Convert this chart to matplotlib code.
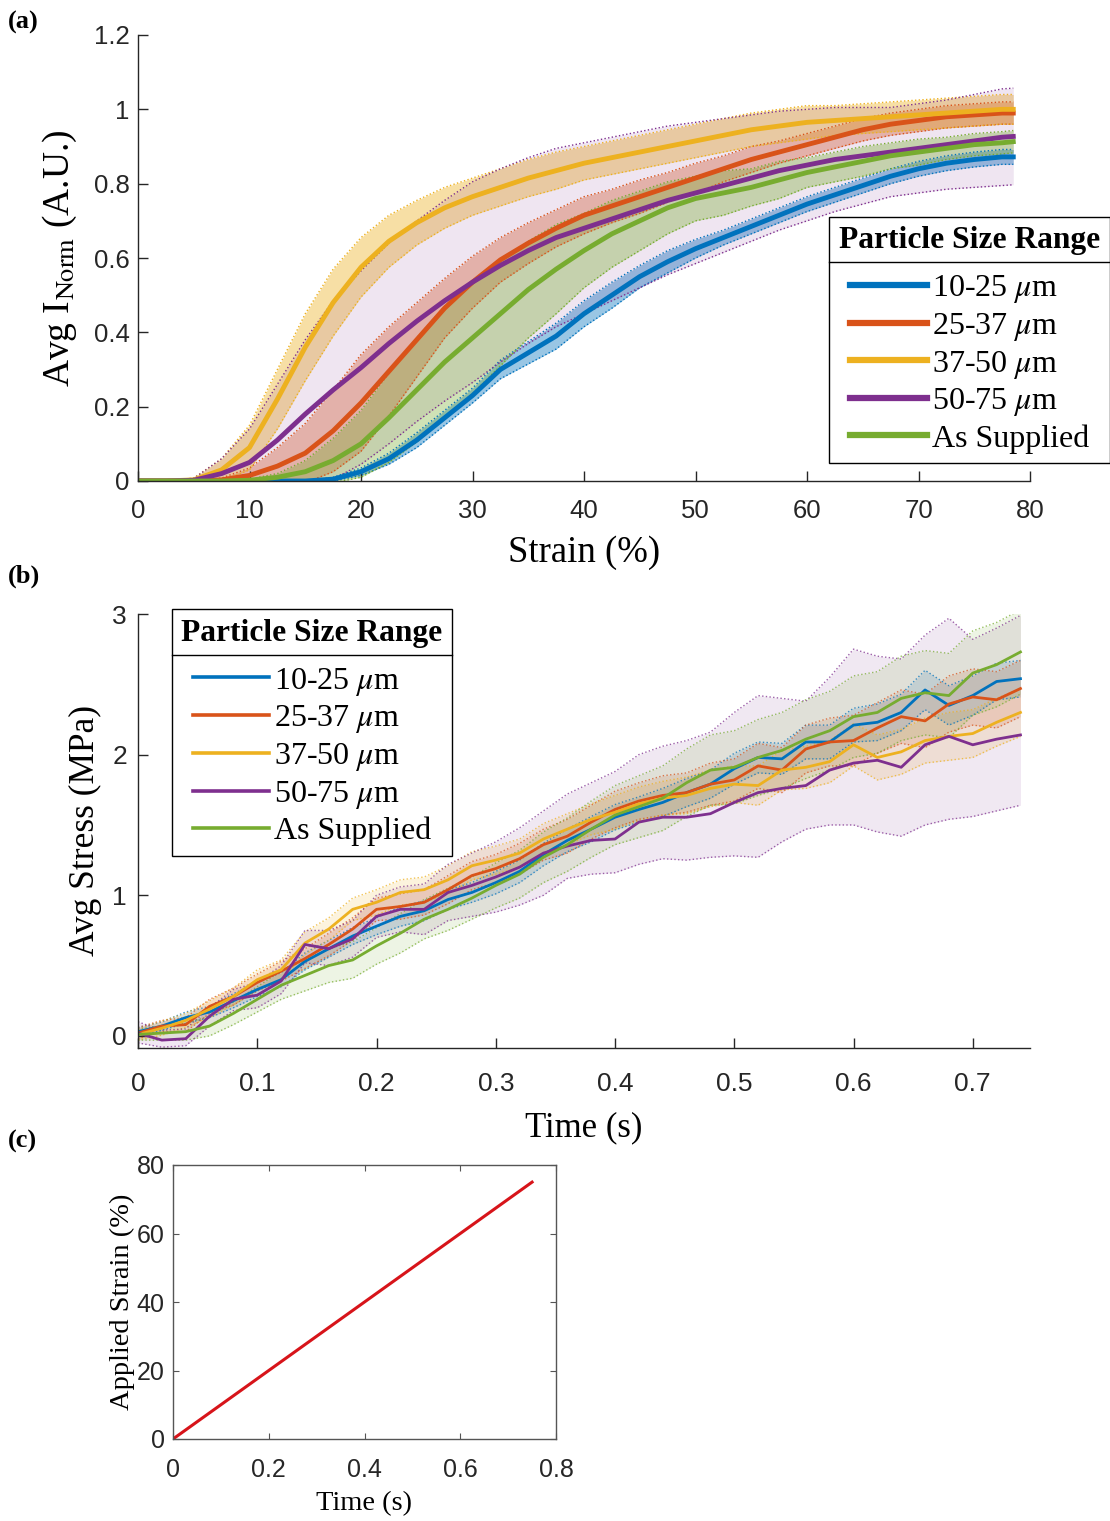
import matplotlib
matplotlib.use('Agg')
import matplotlib.pyplot as plt
from matplotlib.lines import Line2D
import numpy as np

plt.rcParams['mathtext.fontset'] = 'stix'
plt.rcParams['axes.linewidth'] = 1.0

SANS = 'Liberation Sans'
SERIF = 'Liberation Serif'
INK = '#262626'

# series names / colours (MATLAB default order)
names = ['10-25 $\\mu$m', '25-37 $\\mu$m', '37-50 $\\mu$m', '50-75 $\\mu$m', 'As Supplied']
colors = ['#0072BD', '#D95319', '#EDB120', '#7E2F8E', '#77AC30']

# ---- (a) average normalised intensity vs strain ----
strain_a = [0, 2.5, 5, 7.5, 10, 12.5, 15, 17.5, 20, 22.5, 25, 27.5, 30, 32.5, 35, 37.5, 40,
            42.5, 45, 47.5, 50, 52.5, 55, 57.5, 60, 62.5, 65, 67.5, 70, 72.5, 75, 77.5, 78.5]
int_1025 = [0, 0, 0, 0, 0, 0, 0, 0.005, 0.025, 0.06, 0.11, 0.17, 0.23, 0.30, 0.345, 0.39, 0.45,
            0.50, 0.55, 0.59, 0.625, 0.655, 0.685, 0.715, 0.745, 0.77, 0.795, 0.82, 0.84, 0.855,
            0.865, 0.872, 0.872]
int_2537 = [0, 0, 0, 0.003, 0.015, 0.04, 0.075, 0.135, 0.21, 0.295, 0.38, 0.465, 0.535, 0.595,
            0.64, 0.68, 0.715, 0.74, 0.765, 0.79, 0.815, 0.84, 0.865, 0.885, 0.905, 0.925, 0.945,
            0.96, 0.97, 0.98, 0.985, 0.99, 0.99]
int_3750 = [0, 0, 0.003, 0.03, 0.09, 0.22, 0.36, 0.48, 0.575, 0.645, 0.695, 0.735, 0.765, 0.79,
            0.815, 0.835, 0.855, 0.87, 0.885, 0.90, 0.915, 0.93, 0.945, 0.955, 0.965, 0.97, 0.975,
            0.98, 0.985, 0.99, 0.995, 1.0, 1.0]
int_5075 = [0, 0, 0.002, 0.02, 0.05, 0.11, 0.18, 0.245, 0.305, 0.37, 0.43, 0.485, 0.535, 0.58,
            0.62, 0.655, 0.68, 0.705, 0.73, 0.755, 0.775, 0.795, 0.815, 0.835, 0.85, 0.865, 0.875,
            0.885, 0.895, 0.905, 0.915, 0.925, 0.927]
int_supp = [0, 0, 0, 0, 0.002, 0.01, 0.025, 0.055, 0.10, 0.17, 0.245, 0.32, 0.385, 0.45, 0.515,
            0.57, 0.62, 0.665, 0.70, 0.735, 0.76, 0.775, 0.79, 0.81, 0.83, 0.845, 0.86, 0.875,
            0.885, 0.895, 0.905, 0.91, 0.913]
# standard deviation bands
sd_1025 = [0, 0, 0, 0, 0, 0, 0, 0.005, 0.01, 0.015, 0.02, 0.02, 0.02, 0.025, 0.03, 0.035, 0.035,
           0.035, 0.03, 0.03, 0.025, 0.02, 0.02, 0.02, 0.02, 0.02, 0.02, 0.02, 0.02, 0.02, 0.02,
           0.02, 0.02]
sd_2537 = [0, 0, 0, 0.005, 0.02, 0.05, 0.08, 0.11, 0.13, 0.12, 0.10, 0.08, 0.07, 0.06, 0.055,
           0.05, 0.05, 0.045, 0.045, 0.04, 0.04, 0.035, 0.035, 0.03, 0.03, 0.03, 0.03, 0.03, 0.03,
           0.03, 0.03, 0.03, 0.03]
sd_3750 = [0, 0, 0.005, 0.03, 0.06, 0.08, 0.09, 0.09, 0.08, 0.07, 0.06, 0.055, 0.05, 0.05, 0.05,
           0.05, 0.045, 0.045, 0.045, 0.045, 0.045, 0.045, 0.045, 0.045, 0.045, 0.04, 0.04, 0.04,
           0.04, 0.04, 0.04, 0.04, 0.04]
sd_5075 = [0, 0, 0.005, 0.04, 0.09, 0.15, 0.20, 0.24, 0.26, 0.27, 0.27, 0.27, 0.27, 0.26, 0.25,
           0.24, 0.23, 0.22, 0.21, 0.20, 0.19, 0.18, 0.17, 0.16, 0.15, 0.14, 0.13, 0.12, 0.12,
           0.12, 0.125, 0.13, 0.13]
sd_supp = [0, 0, 0, 0, 0.003, 0.01, 0.03, 0.06, 0.09, 0.12, 0.14, 0.15, 0.15, 0.14, 0.13, 0.12,
           0.10, 0.09, 0.08, 0.07, 0.06, 0.06, 0.05, 0.05, 0.04, 0.04, 0.04, 0.035, 0.035, 0.03,
           0.03, 0.03, 0.03]

# ---- (b) average stress vs time ----
time_b = [0, 0.02, 0.04, 0.06, 0.08, 0.10, 0.12, 0.14, 0.16, 0.18, 0.20, 0.22, 0.24, 0.26, 0.28,
          0.30, 0.32, 0.34, 0.36, 0.38, 0.40, 0.42, 0.44, 0.46, 0.48, 0.50, 0.52, 0.54, 0.56,
          0.58, 0.60, 0.62, 0.64, 0.66, 0.68, 0.70, 0.72, 0.74]
stress_1025 = [0.03, 0.07, 0.13, 0.17, 0.25, 0.33, 0.40, 0.53, 0.62, 0.71, 0.78, 0.85, 0.89, 0.97,
               1.02, 1.09, 1.17, 1.29, 1.39, 1.47, 1.555, 1.61, 1.66, 1.73, 1.79, 1.90, 1.98,
               1.97, 2.09, 2.09, 2.21, 2.23, 2.30, 2.46, 2.35, 2.42, 2.52, 2.54]
stress_2537 = [0.02, 0.07, 0.08, 0.21, 0.28, 0.38, 0.46, 0.55, 0.65, 0.76, 0.90, 0.92, 0.95, 1.04,
               1.14, 1.19, 1.26, 1.36, 1.42, 1.52, 1.61, 1.67, 1.71, 1.73, 1.79, 1.82, 1.92,
               1.89, 2.04, 2.09, 2.10, 2.19, 2.27, 2.24, 2.36, 2.41, 2.39, 2.47]
stress_3750 = [0.01, 0.055, 0.11, 0.19, 0.28, 0.40, 0.47, 0.66, 0.76, 0.90, 0.95, 1.02, 1.04,
               1.11, 1.21, 1.25, 1.30, 1.40, 1.47, 1.54, 1.59, 1.65, 1.69, 1.71, 1.76, 1.79,
               1.78, 1.89, 1.91, 1.95, 2.07, 1.98, 2.02, 2.10, 2.13, 2.15, 2.23, 2.30]
stress_5075 = [0.02, -0.03, -0.02, 0.14, 0.26, 0.29, 0.39, 0.65, 0.62, 0.69, 0.85, 0.90, 0.90,
               1.02, 1.07, 1.13, 1.20, 1.30, 1.35, 1.39, 1.40, 1.52, 1.555, 1.555, 1.58, 1.66,
               1.73, 1.76, 1.78, 1.89, 1.94, 1.96, 1.91, 2.07, 2.13, 2.07, 2.11, 2.14]
stress_supp = [0.01, 0.02, 0.03, 0.07, 0.16, 0.26, 0.36, 0.43, 0.50, 0.54, 0.64, 0.73, 0.83, 0.90,
               0.98, 1.07, 1.15, 1.27, 1.36, 1.47, 1.57, 1.63, 1.69, 1.80, 1.89, 1.91, 1.98,
               2.03, 2.11, 2.17, 2.27, 2.30, 2.40, 2.44, 2.42, 2.58, 2.64, 2.73]
sdb_1025 = [0.03, 0.03, 0.04, 0.04, 0.05, 0.05, 0.05, 0.06, 0.06, 0.06, 0.06, 0.07, 0.07, 0.07,
            0.07, 0.08, 0.08, 0.08, 0.08, 0.09, 0.09, 0.09, 0.10, 0.10, 0.10, 0.11, 0.11, 0.11,
            0.12, 0.12, 0.12, 0.13, 0.13, 0.14, 0.14, 0.14, 0.13, 0.13]
sdb_2537 = [0.04, 0.04, 0.05, 0.05, 0.06, 0.06, 0.07, 0.07, 0.08, 0.08, 0.08, 0.09, 0.09, 0.10,
            0.10, 0.10, 0.11, 0.11, 0.12, 0.12, 0.13, 0.13, 0.14, 0.14, 0.15, 0.15, 0.16, 0.16,
            0.17, 0.17, 0.18, 0.18, 0.19, 0.19, 0.20, 0.20, 0.20, 0.20]
sdb_3750 = [0.04, 0.05, 0.05, 0.06, 0.06, 0.07, 0.07, 0.08, 0.08, 0.08, 0.09, 0.09, 0.09, 0.10,
            0.10, 0.10, 0.10, 0.11, 0.11, 0.11, 0.12, 0.12, 0.12, 0.13, 0.13, 0.13, 0.14, 0.14,
            0.15, 0.15, 0.15, 0.16, 0.16, 0.16, 0.17, 0.17, 0.17, 0.17]
sdb_supp = [0.04, 0.05, 0.06, 0.07, 0.08, 0.09, 0.10, 0.11, 0.12, 0.13, 0.13, 0.14, 0.14, 0.15,
            0.15, 0.16, 0.17, 0.18, 0.19, 0.20, 0.21, 0.22, 0.23, 0.24, 0.25, 0.26, 0.27, 0.27,
            0.28, 0.28, 0.29, 0.29, 0.30, 0.30, 0.30, 0.30, 0.30, 0.30]
# 50-75 band is lopsided, so keep its edges directly
lob_5075 = [-0.05, -0.08, -0.07, 0.07, 0.18, 0.20, 0.30, 0.52, 0.50, 0.56, 0.70, 0.74, 0.72,
            0.82, 0.85, 0.88, 0.93, 1.00, 1.12, 1.15, 1.16, 1.22, 1.26, 1.25, 1.27, 1.28, 1.27,
            1.38, 1.47, 1.50, 1.50, 1.45, 1.42, 1.50, 1.54, 1.56, 1.60, 1.64]
hib_5075 = [0.10, 0.04, 0.05, 0.20, 0.33, 0.38, 0.50, 0.75, 0.75, 0.82, 1.00, 1.06, 1.08, 1.22,
            1.30, 1.38, 1.48, 1.60, 1.72, 1.80, 1.88, 2.00, 2.06, 2.10, 2.16, 2.30, 2.42, 2.40,
            2.38, 2.55, 2.75, 2.70, 2.68, 2.85, 2.97, 2.82, 2.90, 2.99]

# ---- (c) applied strain ramp ----
time_c = [0, 0.75]
strain_c = [0, 75]

W, H = 1110, 1521
fig = plt.figure(figsize=(W / 100, H / 100), dpi=100)


def px_axes(left, top, right, bottom):
    return fig.add_axes([left / W, 1 - bottom / H, (right - left) / W, (bottom - top) / H])


def style_open(ax, fs):
    for s in ['top', 'right']:
        ax.spines[s].set_visible(False)
    for s in ['left', 'bottom']:
        ax.spines[s].set_color(INK)
    ax.tick_params(direction='in', length=7, width=1, colors=INK, labelsize=fs)
    for lab in ax.get_xticklabels() + ax.get_yticklabels():
        lab.set_fontfamily(SANS)


def add_legend(ax, handles, anchor, fs, lw):
    hs = [Line2D([], [], color=h.get_color(), lw=lw) for h in handles]
    leg = ax.legend(hs, names, loc='upper left', bbox_to_anchor=anchor, borderaxespad=0,
                    title='Particle Size Range', frameon=True, fancybox=False,
                    edgecolor='black', framealpha=1, handlelength=2.4, handletextpad=0.15,
                    labelspacing=0.18, borderpad=0.3,
                    prop={'family': SERIF, 'size': fs},
                    title_fontproperties={'family': SERIF, 'size': fs - 0.3, 'weight': 'bold'})
    leg.get_frame().set_linewidth(1.0)
    leg._legend_box.sep = 13  # extra room between title and entries
    leg.set_zorder(10)
    return leg


# ---------------- (a)
ax = px_axes(138, 35, 1030, 481)
int_a = [int_1025, int_2537, int_3750, int_5075, int_supp]
sd_a = [sd_1025, sd_2537, sd_3750, sd_5075, sd_supp]
fill_alpha = [0.4, 0.35, 0.4, 0.12, 0.35]
for y, sd, c, a in zip(int_a, sd_a, colors, fill_alpha):
    y = np.array(y)
    sd = np.array(sd)
    ax.fill_between(strain_a, y - sd, y + sd, color=c, alpha=a, lw=0)
    ax.plot(strain_a, y - sd, ':', color=c, lw=1)
    ax.plot(strain_a, y + sd, ':', color=c, lw=1)
lines_a = []
for y, c in zip(int_a, colors):
    ln, = ax.plot(strain_a, y, color=c, lw=3.5)
    lines_a.append(ln)
ax.set_xlim(0, 80)
ax.set_ylim(0, 1.2)
ax.set_xticks([0, 10, 20, 30, 40, 50, 60, 70, 80])
ax.set_yticks([0, 0.2, 0.4, 0.6, 0.8, 1, 1.2])
ax.set_yticklabels(['0', '0.2', '0.4', '0.6', '0.8', '1', '1.2'])
style_open(ax, 18.5)
ax.tick_params(axis='x', pad=13)
ax.tick_params(axis='y', pad=6)
ax.set_xlabel('Strain (%)', fontfamily=SERIF, fontsize=26.5, labelpad=9)
ax.set_ylabel('Avg I$_{\\mathrm{Norm}}$ (A.U.)', fontfamily=SERIF, fontsize=27, labelpad=11)
leg_a = add_legend(ax, lines_a, (0.775, 0.593), 23, 4.5)

# ---------------- (b)
ax = px_axes(138, 614, 1030, 1048)
stress_b = [stress_1025, stress_2537, stress_3750, stress_5075, stress_supp]
bands_b = []
for y, sd in zip([stress_1025, stress_2537, stress_3750], [sdb_1025, sdb_2537, sdb_3750]):
    bands_b.append((np.array(y) - np.array(sd), np.array(y) + np.array(sd)))
bands_b.append((np.array(lob_5075), np.array(hib_5075)))
bands_b.append((np.array(stress_supp) - np.array(sdb_supp), np.array(stress_supp) + np.array(sdb_supp)))
fill_b = [0.15, 0.15, 0.15, 0.11, 0.13]
for (lo, hi), c, a in zip(bands_b, colors, fill_b):
    ax.fill_between(time_b, lo, hi, color=c, alpha=a, lw=0)
    ax.plot(time_b, lo, ':', color=c, lw=1, alpha=0.75)
    ax.plot(time_b, hi, ':', color=c, lw=1, alpha=0.75)
lines_b = []
for y, c in zip(stress_b, colors):
    ln, = ax.plot(time_b, y, color=c, lw=2.0)
    lines_b.append(ln)
ax.set_xlim(0, 0.748)
ax.set_ylim(-0.086, 3)
ax.set_xticks([0, 0.1, 0.2, 0.3, 0.4, 0.5, 0.6, 0.7])
ax.set_xticklabels(['0', '0.1', '0.2', '0.3', '0.4', '0.5', '0.6', '0.7'])
ax.set_yticks([0, 1, 2, 3])
style_open(ax, 19)
ax.tick_params(axis='x', pad=17)
ax.tick_params(axis='y', pad=8)
ax.set_xlabel('Time (s)', fontfamily=SERIF, fontsize=25, labelpad=11)
ax.set_ylabel('Avg Stress (MPa)', fontfamily=SERIF, fontsize=25.5, labelpad=7)
leg_b = add_legend(ax, lines_b, (0.038, 1.0115), 23, 2.6)

# ---------------- (c)
ax = px_axes(173, 1165, 556, 1439)
ax.plot(time_c, strain_c, color='#D7141A', lw=2.2)
ax.set_xlim(0, 0.8)
ax.set_ylim(0, 80)
ax.set_xticks([0, 0.2, 0.4, 0.6, 0.8])
ax.set_xticklabels(['0', '0.2', '0.4', '0.6', '0.8'])
ax.set_yticks([0, 20, 40, 60, 80])
for s in ax.spines.values():
    s.set_color('#555555')
ax.tick_params(direction='in', length=4, width=0.8, colors='#555555', labelcolor=INK,
               labelsize=18, top=True, right=True)
ax.tick_params(axis='x', pad=14)
ax.tick_params(axis='y', pad=6)
for lab in ax.get_xticklabels() + ax.get_yticklabels():
    lab.set_fontfamily(SANS)
ax.set_xlabel('Time (s)', fontfamily=SERIF, fontsize=20.5, labelpad=6)
ax.set_ylabel('Applied Strain (%)', fontfamily=SERIF, fontsize=20.5, labelpad=1)

# panel letters
for txt, y in [('(a)', 22), ('(b)', 576), ('(c)', 1141)]:
    fig.text(8 / W, 1 - y / H, txt, fontfamily=SERIF, fontweight='bold', fontsize=19,
             va='center', ha='left')

# line under the legend titles
fig.canvas.draw()
for leg in [leg_a, leg_b]:
    tb = leg.get_title().get_window_extent()
    fb = leg.get_frame().get_window_extent()
    yline = tb.y0 - 7
    fig.add_artist(Line2D([fb.x0 / W, fb.x1 / W], [yline / H, yline / H],
                          transform=fig.transFigure, color='black', lw=1.0))

fig.savefig('out.png', dpi=100)
